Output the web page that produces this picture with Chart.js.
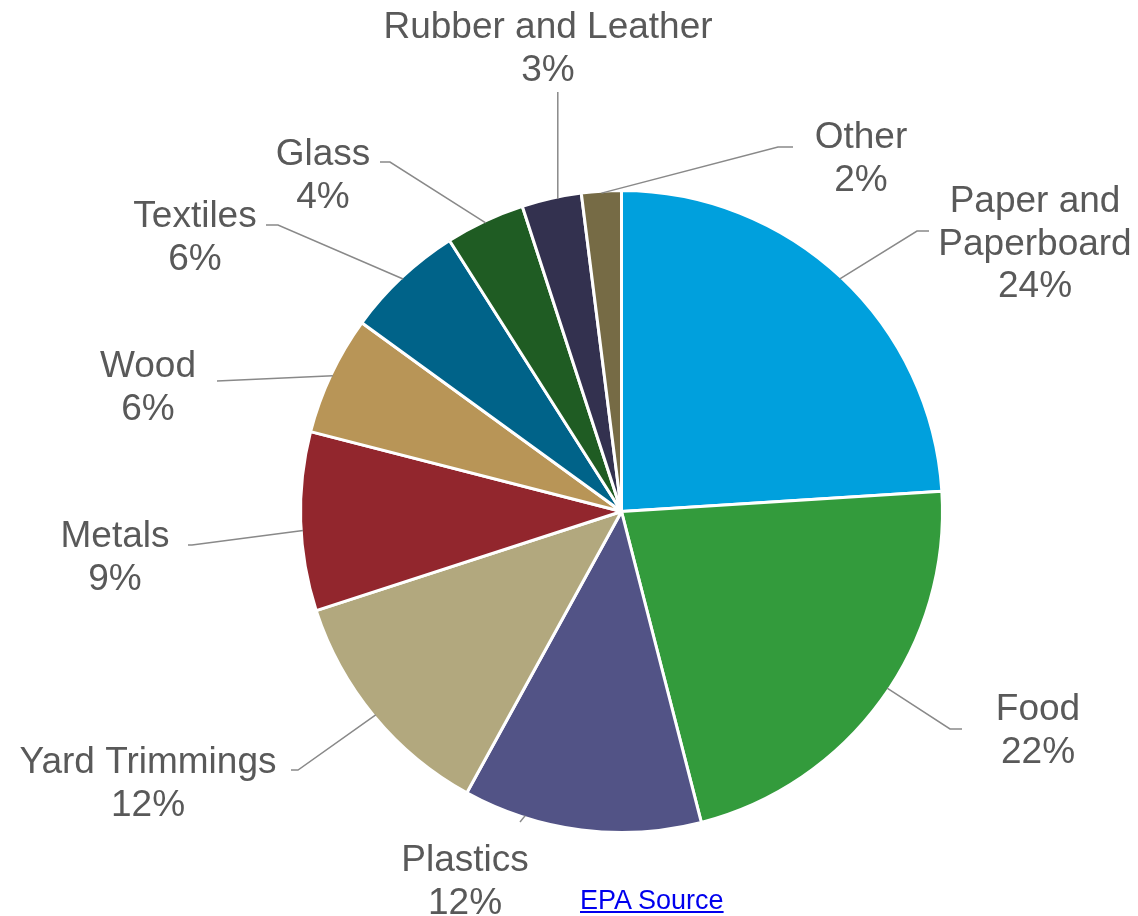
<!DOCTYPE html>
<html>
<head>
<meta charset="utf-8">
<script src="https://cdn.jsdelivr.net/npm/chart.js@4.4.1/dist/chart.umd.min.js"></script>
<style>
  body { margin: 0; background: #fff; }
  #wrap { position: relative; width: 1138px; height: 916px; }
  #source {
    position: absolute; left: 580px; top: 887px;
    font: 27px "Liberation Sans", Arial, sans-serif; line-height: 27px;
    color: #0000ee; text-decoration: underline;
  }
</style>
</head>
<body>
<div id="wrap">
  <canvas id="wasteChart" width="1138" height="916"></canvas>
  <a id="source" href="https://www.epa.gov/facts-and-figures-about-materials-waste-and-recycling">EPA Source</a>
</div>
<script>
const categories = ['Paper and Paperboard', 'Food', 'Plastics', 'Yard Trimmings', 'Metals',
  'Wood', 'Textiles', 'Glass', 'Rubber and Leather', 'Other'];
const shares = [24, 22, 12, 12, 9, 6, 6, 4, 3, 2];
const colors = ['#00a0dd', '#339b3c', '#525386', '#b2a87e', '#92262d',
  '#b89557', '#006389', '#1f5c23', '#33314f', '#766b45'];

// how each label is broken into lines (the percent line is appended)
const labelLines = [['Paper and', 'Paperboard'], ['Food'], ['Plastics'], ['Yard Trimmings'], ['Metals'],
  ['Wood'], ['Textiles'], ['Glass'], ['Rubber and Leather'], ['Other']];

// label placement: text centre x, first baseline y, leader elbow, end of the short horizontal piece
// at = where along the slice the leader touches the edge (0..1)
const labelPos = [
  { x: 1035, y: 212, ex: 917, ey: 231, hx: 929, at: 0.5 },
  { x: 1038, y: 720, ex: 950, ey: 729, hx: 962, at: 0.47 },
  { x: 465, y: 871, ex: 520, ey: 822, hx: null, at: 0.74 },
  { x: 148, y: 773, ex: 298, ey: 770, hx: 291, at: 0.5 },
  { x: 115, y: 547, ex: 192, ey: 545, hx: 188, at: 0.45 },
  { x: 148, y: 377, ex: 217, ey: 381, hx: null, at: 0.5 },
  { x: 195, y: 227, ex: 278, ey: 225, hx: 266, at: 0.5 },
  { x: 323, y: 165, ex: 390, ey: 162, hx: 380, at: 0.5 },
  { x: 548, y: 38, ex: null, ey: 92, hx: null, at: 0.6 },
  { x: 861, y: 148, ex: 778, ey: 147, hx: 793, at: 0.5 },
];

const FONT = '37px "Liberation Sans", Arial, sans-serif';
const LINE_H = 42.5;

const outsideLabels = {
  id: 'outsideLabels',
  afterDatasetsDraw(chart) {
    const ctx = chart.ctx;
    const arcs = chart.getDatasetMeta(0).data;
    ctx.save();
    arcs.forEach((arc, i) => {
      const p = labelPos[i];
      const { x, y, startAngle, endAngle, outerRadius } = arc.getProps(['x', 'y', 'startAngle', 'endAngle', 'outerRadius'], true);
      const a = startAngle + (endAngle - startAngle) * p.at;
      const sx = x + Math.cos(a) * (outerRadius - 2);
      const sy = y + Math.sin(a) * (outerRadius - 2);

      ctx.strokeStyle = '#898989';
      ctx.lineWidth = 1.5;
      ctx.beginPath();
      ctx.moveTo(sx, sy);
      ctx.lineTo(p.ex === null ? sx : p.ex, p.ey);
      if (p.hx !== null) ctx.lineTo(p.hx, p.ey);
      ctx.stroke();

      ctx.fillStyle = '#595959';
      ctx.font = FONT;
      ctx.textAlign = 'center';
      ctx.textBaseline = 'alphabetic';
      const lines = labelLines[i].concat(shares[i] + '%');
      lines.forEach((t, k) => ctx.fillText(t, p.x, p.y + k * LINE_H));
    });
    ctx.restore();
  }
};

new Chart(document.getElementById('wasteChart'), {
  type: 'pie',
  data: {
    labels: categories,
    datasets: [{
      data: shares,
      backgroundColor: colors,
      borderColor: '#ffffff',
      borderWidth: 3,
      hoverOffset: 0,
      offset: 0,
    }],
  },
  options: {
    responsive: false,
    animation: false,
    radius: 321,
    layout: { padding: { left: 105, top: 107, right: 0, bottom: 0 } },
    plugins: {
      legend: { display: false },
      tooltip: { enabled: false },
    },
  },
  plugins: [outsideLabels],
});
</script>
</body>
</html>
